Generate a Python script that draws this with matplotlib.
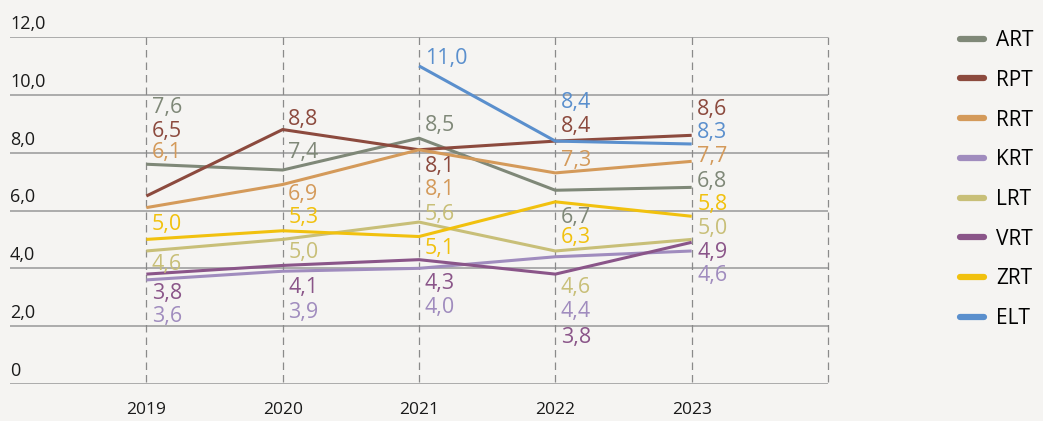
import numpy as np
import matplotlib
matplotlib.use('Agg')
import matplotlib.pyplot as plt
from matplotlib.lines import Line2D

plt.rcParams['font.family'] = ['Open Sans', 'DejaVu Sans']

# ---- data
years = [2019, 2020, 2021, 2022, 2023]
series_names = ['ART', 'RPT', 'RRT', 'KRT', 'LRT', 'VRT', 'ZRT', 'ELT']
art = [7.6, 7.4, 8.5, 6.7, 6.8]
rpt = [6.5, 8.8, 8.1, 8.4, 8.6]
rrt = [6.1, 6.9, 8.1, 7.3, 7.7]
krt = [3.6, 3.9, 4.0, 4.4, 4.6]
lrt = [4.6, 5.0, 5.6, 4.6, 5.0]
vrt = [3.8, 4.1, 4.3, 3.8, 4.9]
zrt = [5.0, 5.3, 5.1, 6.3, 5.8]
elt = [np.nan, np.nan, 11.0, 8.4, 8.3]
y_ticks = [0, 2, 4, 6, 8, 10, 12]

# ---- styles
colors = {'ART': '#7f8878', 'RPT': '#8c4a3e', 'RRT': '#d49a5a', 'KRT': '#a08cbe',
          'LRT': '#c8bf78', 'VRT': '#8a5589', 'ZRT': '#f1c10e', 'ELT': '#5a8fcd'}
# label offsets in pixels (negative = above the line), per year
label_dy = {'ART': [-57, -18, -13, 27, -6],
            'RPT': [-65, -10, 17, -15, -26],
            'RRT': [-55, 10, 40, -12, -5],
            'KRT': [37, 41, 39, 55, 25],
            'LRT': [14, 13, -8, 37, -11],
            'VRT': [19, 22, 24, 63, 10],
            'ZRT': [-15, -13, 12, 36, -12],
            'ELT': [0, 0, -7, -39, -11]}
bg = '#f5f4f2'

values = dict(zip(series_names, [art, rpt, rrt, krt, lrt, vrt, zrt, elt]))

fig = plt.figure(figsize=(10.43, 4.21), dpi=100, facecolor=bg)
ax = fig.add_axes([10 / 1043, 1 - 384 / 421, 818 / 1043, 347 / 421])
ax.set_facecolor(bg)
ax.set_xlim(2018, 2024)
ax.set_ylim(0, 12)
for s in ax.spines.values():
    s.set_visible(False)
ax.set_xticks([])
ax.set_yticks([])

for yv in y_ticks:
    ax.axhline(yv, color='#a6a6a6', lw=1.3, zorder=1)
    lab = '0' if yv == 0 else ('%.1f' % yv).replace('.', ',')
    ax.annotate(lab, (0, yv), xycoords=('axes fraction', 'data'), xytext=(0, 3),
                textcoords='offset points', ha='left', va='bottom', fontsize=13,
                color='#1a1a1a')
for xv in years + [2024]:
    ax.axvline(xv, ymin=0.005, ymax=1, color='#8a8a8a', lw=0.9, dashes=(6, 4),
               zorder=1, clip_on=False)
for xv in years:
    ax.annotate(str(xv), (xv, 0), xycoords='data', xytext=(0, -19),
                textcoords='offset points', ha='center', va='center', fontsize=12.5,
                color='#1a1a1a')

for name in series_names:
    vals = values[name]
    ax.plot(years, vals, color=colors[name], lw=2.2, zorder=3, solid_capstyle='butt')
    for i, v in enumerate(vals):
        if np.isnan(v):
            continue
        ax.annotate(('%.1f' % v).replace('.', ','), (years[i], v), xycoords='data',
                    xytext=(4, -label_dy[name][i] * 0.72), textcoords='offset points',
                    ha='left', va='center', fontsize=15.5, color=colors[name], zorder=4)

handles = [Line2D([0], [0], color=colors[n], lw=4.5, solid_capstyle='round') for n in series_names]
leg = fig.legend(handles, series_names, loc='upper left', bbox_to_anchor=(960 / 1043, 1 - 30 / 421),
                 frameon=False, fontsize=15, handlelength=1.15, handletextpad=0.6,
                 labelspacing=0.9, borderaxespad=0, borderpad=0)

fig.savefig('out.png', dpi=100, facecolor=bg)
